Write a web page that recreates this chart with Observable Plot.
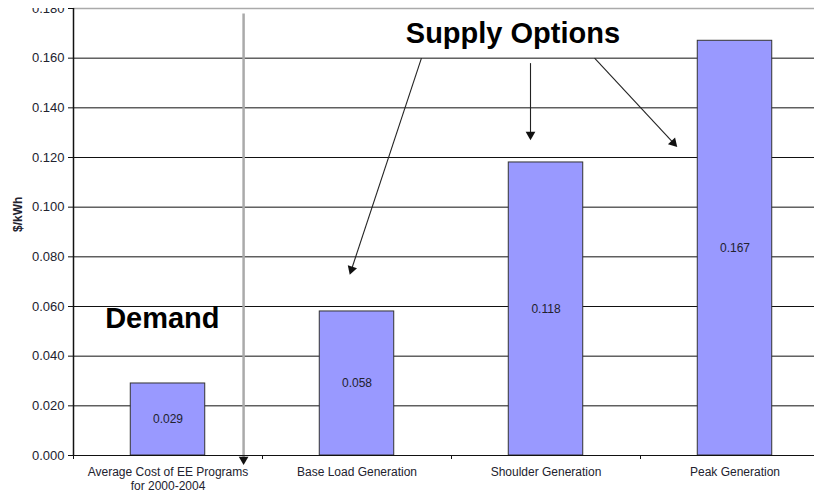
<!DOCTYPE html>
<html>
<head>
<meta charset="utf-8">
<script src="https://cdn.jsdelivr.net/npm/d3@7"></script>
<script src="https://cdn.jsdelivr.net/npm/@observablehq/plot@0.6"></script>
<style>
  html, body { margin: 0; padding: 0; background: white; overflow: hidden; }
  #chart svg { clip-path: polygon(0 8px, 69px 8px, 69px 0, 100% 0, 100% 100%, 0 100%); }
</style>
</head>
<body>
<div id="chart"></div>
<script>
const categories = ["Average Cost of EE Programs\nfor 2000-2004", "Base Load Generation", "Shoulder Generation", "Peak Generation"];
const values = [0.029, 0.058, 0.118, 0.167];
const yTicks = [0, 0.02, 0.04, 0.06, 0.08, 0.10, 0.12, 0.14, 0.16, 0.18];
const boundaries = [-0.5, 0.5, 1.5, 2.5, 3.5];

// annotations (data coordinates)
const annotations = [
  {text: "Demand", x: -0.03, y: 0.0552},
  {text: "Supply Options", x: 1.825, y: 0.170}
];
const supplyArrows = [
  {x1: 1.341, y1: 0.160, x2: 0.966, y2: 0.0738},
  {x1: 1.918, y1: 0.158, x2: 1.918, y2: 0.128},
  {x1: 2.257, y1: 0.160, x2: 2.685, y2: 0.125}
];
const divider = [{x1: 0.4, y1: 0.178, x2: 0.4, y2: -0.0028}];

const bars = categories.map((c, i) => ({i, c, v: values[i]}));
const gridTicks = yTicks.filter(t => t > 0 && t < 0.18);

const scaleOpts = {
  width: 814,
  height: 492,
  marginTop: 8,
  marginBottom: 37,
  marginLeft: 73,
  marginRight: 0,
  x: {type: "linear", domain: [-0.5, 3.5], range: [73, 829]},
  y: {domain: [0, 0.18]}
};

// compute arrowhead placement/rotation in screen space using Plot's own scales
const pre = Plot.plot({...scaleOpts, marks: [Plot.dot([{x: 0, y: 0}], {x: "x", y: "y"})]});
const sx = pre.scale("x"), sy = pre.scale("y");
function heads(arrows, back) {
  return arrows.map(a => {
    const px1 = sx.apply(a.x1), py1 = sy.apply(a.y1), px2 = sx.apply(a.x2), py2 = sy.apply(a.y2);
    const len = Math.hypot(px2 - px1, py2 - py1);
    const ux = (px2 - px1) / len, uy = (py2 - py1) / len;
    return {
      x: sx.invert(px2 - ux * back),
      y: sy.invert(py2 - uy * back),
      rotate: Math.atan2(ux, -uy) * 180 / Math.PI
    };
  });
}
const supplyHeads = heads(supplyArrows, 3);
const dividerHeads = heads(divider, 3);

const chart = Plot.plot({
  ...scaleOpts,
  style: {fontFamily: "'Liberation Sans', Arial, sans-serif", fontSize: "12px", color: "#22222e", background: "white"},
  marks: [
    Plot.ruleY(gridTicks, {stroke: "#111", strokeWidth: 1}),
    Plot.ruleY([0.18], {stroke: "#aaa", strokeWidth: 1.5}),
    Plot.link(divider, {x1: "x1", y1: "y1", x2: "x2", y2: "y2", stroke: "#aaa", strokeWidth: 2.5}),
    Plot.dot(dividerHeads, {x: "x", y: "y", rotate: "rotate", symbol: "triangle", r: 3.6, fill: "#111", stroke: "none"}),
    Plot.rectY(bars, {x1: d => d.i - 0.197, x2: d => d.i + 0.197, y1: 0, y2: "v", fill: "#9999ff", stroke: "#333", strokeWidth: 1}),
    Plot.text(bars, {x: "i", y: d => d.v / 2, text: d => d3.format(".3f")(d.v), fontSize: 12, fill: "#22222e"}),
    Plot.ruleY([0], {stroke: "#111", strokeWidth: 1.2}),
    Plot.ruleX([-0.5], {y1: 0, y2: 0.18, stroke: "#111", strokeWidth: 1.5}),
    Plot.axisY({ticks: yTicks, tickFormat: d3.format(".3f"), tickSize: 5, tickPadding: 4, fontSize: 13, label: null, stroke: "#111"}),
    Plot.axisX({ticks: boundaries, tickFormat: () => "", tickSize: 4, label: null, stroke: "#111"}),
    Plot.axisX({ticks: [0, 1, 2, 3], tickFormat: i => categories[i], tickSize: 0, tickPadding: 11, fontSize: 12, lineHeight: 1.15, label: null}),
    Plot.text(["$/kWh"], {frameAnchor: "left", dx: -55, rotate: -90, fontWeight: "bold", fontSize: 12, fill: "#22222e"}),
    Plot.link(supplyArrows, {x1: "x1", y1: "y1", x2: "x2", y2: "y2", stroke: "#222", strokeWidth: 1.1}),
    Plot.dot(supplyHeads, {x: "x", y: "y", rotate: "rotate", symbol: "triangle", r: 3.6, fill: "#111", stroke: "none"}),
    Plot.text(annotations, {x: "x", y: "y", text: "text", fontSize: 29, fontWeight: "bold", fill: "#000"})
  ]
});
document.getElementById("chart").appendChild(chart);
</script>
</body>
</html>
